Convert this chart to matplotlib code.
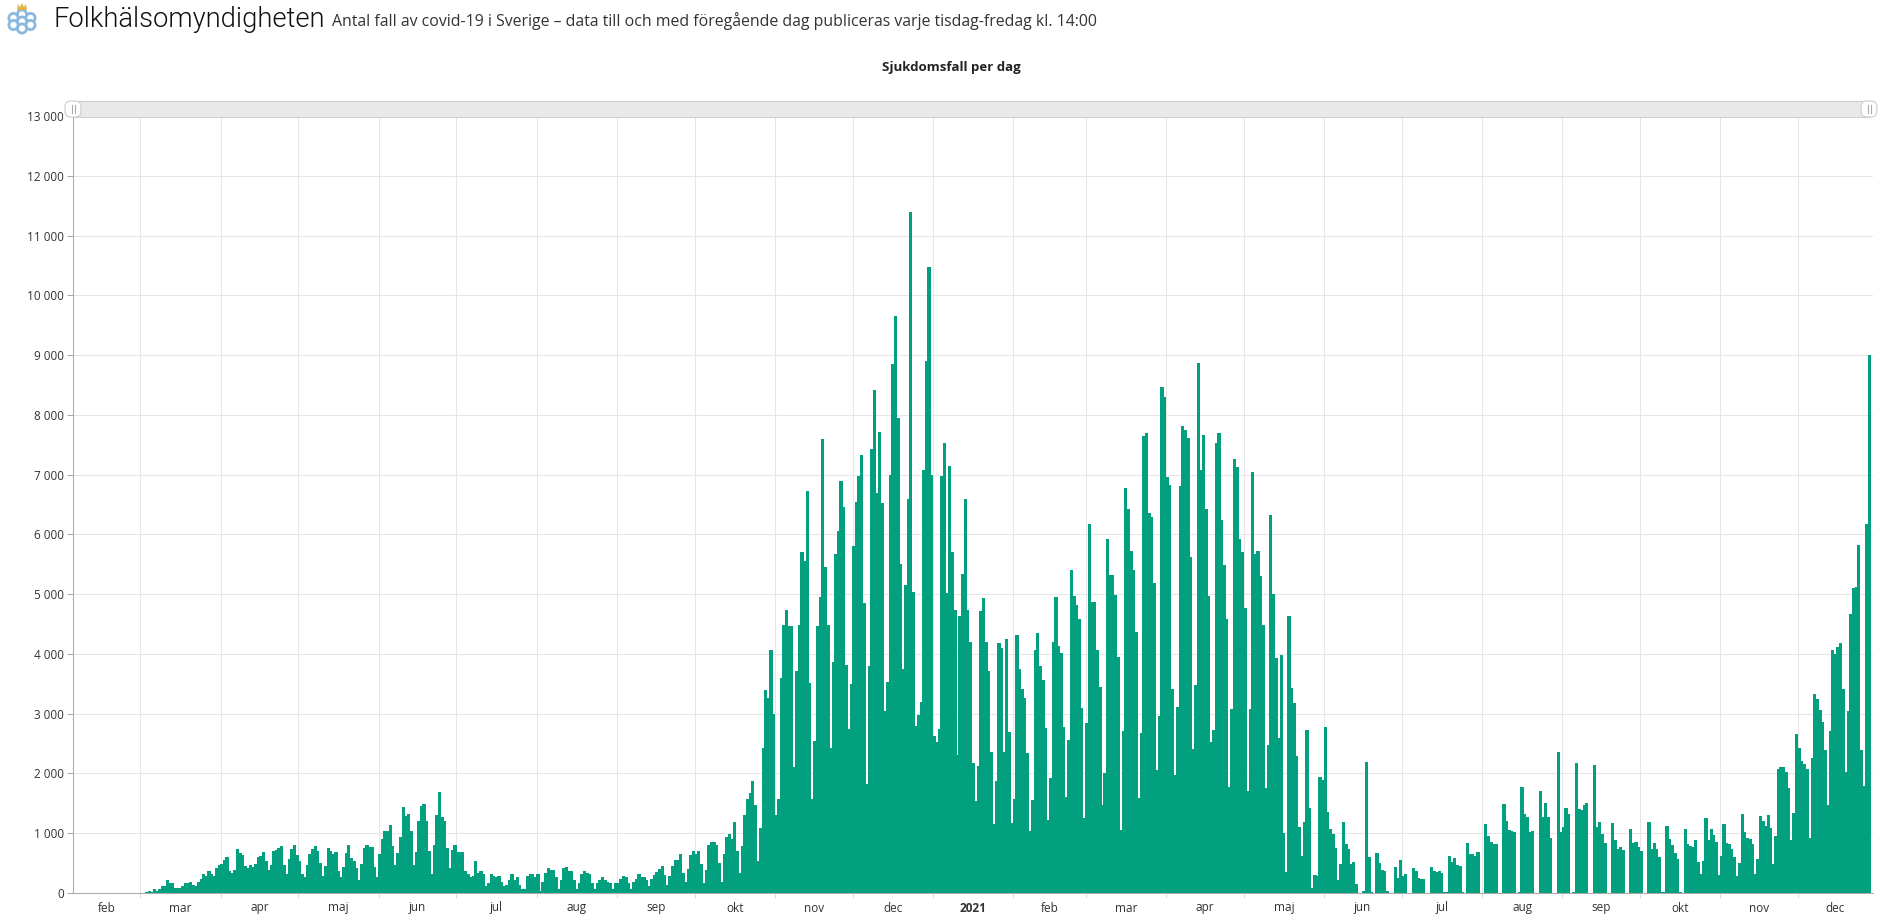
import matplotlib
matplotlib.use("Agg")
import matplotlib.pyplot as plt
from matplotlib.patches import Circle, FancyBboxPatch, Rectangle, Polygon

# Daily cases; first bar = 4 Feb 2020
cases_feb = [1, 0, 0, 0, 0, 0, 0, 0, 0, 0, 0, 0, 0, 0, 0, 0, 0, 0, 0, 0, 0, 0, 1, 1, 2, 3, 7, 7]
cases_spring_2020 = [
    20, 40, 20, 70, 40, 60, 110, 110, 210, 160, 160, 80, 80, 90, 120, 160, 160, 190, 140, 120,
    190, 240, 320, 290, 370, 310, 290, 420, 470, 490, 560, 610, 360, 340, 390, 740, 670, 640, 460, 410,
    470, 440, 490, 610, 620, 690, 540, 390, 470, 710, 720, 760, 790, 470, 310, 570, 740, 810, 640, 540,
    310, 270, 470, 660, 740, 790, 710, 510, 290, 460, 760, 710, 660, 690, 360, 260, 440, 670, 810, 590,
    540, 410, 220, 490, 760, 810, 770, 770, 440, 270, 660, 910, 1040, 1040, 1140, 790, 470, 670, 940, 1440,
    1290, 1320, 1040, 470, 690, 1210, 1460, 1490, 1210, 710, 320, 810, 1310, 1690, 1270, 1210, 760, 420, 720, 810,
    690, 690, 690, 370, 320, 260, 290, 540, 340, 370, 310, 110, 170, 320, 290, 270, 290, 190, 120, 140,
    220, 310, 220, 270, 140, 60, 70, 290, 310, 310, 260, 310, 40, 190, 340, 420, 390, 390, 270, 70,
    210, 420, 440, 370, 360, 220, 70, 170, 320, 360, 340, 310, 170, 60, 170, 220, 260, 210, 190, 160,
    70, 170, 170, 240, 290, 270, 170, 70, 190, 240, 320, 260, 260, 210, 110,
]
cases_autumn_2020 = [
    230, 300, 350, 400, 450, 300, 140, 280, 450, 560, 550, 650, 330, 180, 400, 630, 700, 650, 710, 480,
    160, 380, 800, 850, 850, 800, 510, 180, 650, 930, 980, 910, 1180, 710, 330, 780, 1300, 1580, 1670, 1870,
    1480, 530, 1080, 2420, 3390, 3270, 4060, 2990, 1300, 1580, 3600, 4490, 4740, 4460, 4460, 2100, 3720, 4490, 5710, 5560,
    6730, 3520, 1580, 2550, 4460, 4960, 7600, 5460, 4490, 2430, 3870, 5680, 6060, 6900, 6460, 3820, 2750, 3490, 5810, 6550,
    6980, 7330, 4860, 1820, 3790, 7432, 8416, 6696, 7716, 6530, 3053, 3537, 6997, 8849, 9653, 7945, 5510, 3755, 5160, 6600,
    11392, 5040, 2800, 2970, 3200, 7081, 8898, 10470, 6997, 2620, 2530, 2750, 6980, 7530, 5025, 7148, 5700, 4740, 2317, 4640,
    5342, 6596, 4740, 4206, 2167, 1536, 2120, 4724, 4940, 4200, 3720, 2367, 1147, 1880, 4190, 4106, 2367, 4256, 2702, 1164,
    1565, 4320, 3740, 3405, 3270, 2335, 1045, 1548, 4071, 4357, 3805, 3570, 2768, 1215, 1916, 4205, 4957, 4140, 4022, 2785,
    1598, 2552, 5410, 4975, 4825, 4590, 3103, 1248, 2836, 6177, 4875, 4875, 4072, 3454, 1465, 2002, 5928, 5327, 5327, 4990,
    3955, 1047, 2718, 6780, 6430, 5727, 5410, 4374, 1582, 2685, 7650, 7700, 6362, 6295, 5192, 2061, 2969,
]
cases_spring_2021 = [
    8460, 8300, 6960, 6830, 3408, 1970, 3108, 6810, 7810, 7745, 7610, 5627, 2407, 3475, 8860, 7078, 7660, 6427, 4976, 2524,
    2724, 7528, 7695, 6244, 5493, 4576, 1780, 3075, 7261, 7128, 5927, 5700, 4760, 1700, 3075, 7040, 5680, 5720, 5300, 4476,
    1750, 2474, 6320, 5000, 3925, 2591, 3975, 1000, 350, 4642, 3425, 3175, 2300, 1100,
]
cases_summer_2021 = [
    620, 1190, 2724, 1423, 90, 306, 290, 1940, 1890, 2774, 1357, 1073, 990, 756, 222, 490, 1190, 823, 740, 490,
    523, 156, 0, 0, 40, 2190, 606, 20, 0, 673, 506, 390, 372, 40, 5, 5, 440, 256, 556, 290,
    322, 0, 0, 422, 372, 256, 239, 239, 0, 0, 440, 372, 356, 372, 340, 20, 10, 623, 523, 590,
    473, 456, 20, 5, 840, 656, 656, 623, 690, 5, 5, 1157, 956, 856, 823, 823, 0, 0, 1490, 1207,
    1056, 1040, 1023, 5, 20, 1774, 1323, 1273, 1023, 1040, 0, 0, 1707, 1273, 1507, 1273, 923, 0, 0, 2357,
    1023, 1106, 1423, 1323, 5, 20, 2174, 1407, 1390, 1473, 1507, 0, 0, 2140, 1106, 1190, 990, 840, 0, 0,
    1173, 890, 740, 773, 723, 0, 0, 1073, 840, 856, 773, 706, 0, 0, 1190, 740, 840, 740, 606, 20,
    20, 1123, 906, 806, 673, 573, 20, 5, 1073, 823, 790, 773, 890, 523, 322, 540, 1257, 890, 1073, 973,
    856, 306, 623, 1157, 840, 823, 740, 606, 290, 506, 1323, 1023, 923, 906, 823, 322, 573, 1290, 1207, 1123,
    1307, 1090, 490, 956, 2074, 2107, 2107, 2024, 1757, 890, 1340, 2658, 2424, 2207, 2157, 2074, 923, 2257, 3325, 3241,
    3058, 2858, 2391, 1473, 2708, 4059, 3992, 4109, 4176, 3408, 2024, 3041, 4676, 5110, 5127, 5830, 2391, 1790, 6170, 9000,
]
y_ticks = [i * 1000 for i in range(14)]
y_tick_labels = ["0", "1 000", "2 000", "3 000", "4 000", "5 000", "6 000", "7 000", "8 000",
                 "9 000", "10 000", "11 000", "12 000", "13 000"]
# Days since 4 Feb 2020 for the first of each month
month_starts = [26, 57, 87, 118, 148, 179, 210, 240, 271, 301, 332, 363, 391, 422, 452, 483, 513, 544, 575, 605, 636, 666]
month_labels = ["feb", "mar", "apr", "maj", "jun", "jul", "aug", "sep", "okt", "nov", "dec", "2021",
                "feb", "mar", "apr", "maj", "jun", "jul", "aug", "sep", "okt", "nov", "dec"]

cases = cases_feb + cases_spring_2020 + cases_autumn_2020 + cases_spring_2021 + cases_summer_2021

W, H = 1887, 924
fig = plt.figure(figsize=(W / 100, H / 100), dpi=100, facecolor="white")
L, R, T, B = 73.0, 1873.0, 116.0, 893.0
ax = fig.add_axes([L / W, 1 - B / H, (R - L) / W, (B - T) / H])
plt.rcParams["font.family"] = ["Open Sans", "DejaVu Sans"]

ax.bar([d - 0.12 for d in range(len(cases))], cases, width=1.25, align="edge", color="#03a07f",
       linewidth=0, antialiased=False, zorder=3)
ax.set_xlim(0, 695)
ax.set_ylim(0, 13000)
ax.set_yticks(y_ticks)
ax.set_yticklabels(y_tick_labels, fontsize=8.5, color="#333333", family="Open Sans")
ax.set_xticks(month_starts)
ax.set_xticklabels([])
ax.grid(True, color="#e6e6e6", linewidth=0.75, zorder=0)
ax.set_axisbelow(True)
for s in ("top", "right"):
    ax.spines[s].set_visible(False)
ax.spines["left"].set_color("#aaaaaa")
ax.spines["bottom"].set_color("#aaaaaa")
ax.spines["left"].set_linewidth(0.75)
ax.spines["bottom"].set_linewidth(0.75)
ax.spines["bottom"].set_zorder(4)
ax.tick_params(axis="y", length=4.5, width=0.75, color="#aaaaaa", pad=2)
ax.tick_params(axis="x", length=3.5, width=0.75, color="#dddddd")

edges = [0] + month_starts + [695]
for lab, a, b in zip(month_labels, edges[:-1], edges[1:]):
    ax.annotate(lab, xy=((a + b) / 2, 0), xycoords=("data", "axes fraction"), xytext=(0, -15),
                textcoords="offset pixels", ha="center", va="center", fontsize=8.5,
                fontweight="bold" if lab == "2021" else "normal", color="#333333", family="Open Sans")

ov = fig.add_axes([0, 0, 1, 1], zorder=10)
ov.set_xlim(0, W)
ov.set_ylim(H, 0)
ov.axis("off")
ov.patch.set_alpha(0)

# Titles
ov.text(54, 27, "Folkhälsomyndigheten", fontsize=19.7, family="Roboto", fontweight=300, color="#111111", va="baseline")
ov.text(332, 26, "Antal fall av covid-19 i Sverige – data till och med föregående dag publiceras varje tisdag-fredag kl. 14:00",
        fontsize=11.4, family="Open Sans", color="#333333", va="baseline")
ov.text(951, 67, "Sjukdomsfall per dag", fontsize=9.5, fontweight="bold", family="Open Sans", color="#222222",
        ha="center", va="center")

# Range slider
ov.add_patch(Rectangle((73, 101), 1796, 16, facecolor="#e9e9e9", edgecolor="#cfcfcf", linewidth=0.8))
for cx in (73, 1869):
    ov.add_patch(FancyBboxPatch((cx - 8, 101), 16, 16, boxstyle="round,pad=0,rounding_size=6",
                                facecolor="white", edgecolor="#cccccc", linewidth=0.8))
    for dx in (-1.5, 1.5):
        ov.plot([cx + dx, cx + dx], [105, 113], color="#aaaaaa", linewidth=0.8)

# Logo
ring = "#8ab8e0"
for cx, cy in [(22, 14.5), (13.5, 18), (30.5, 18), (22, 21.5), (13.5, 25), (30.5, 25), (22, 28.5)]:
    ov.add_patch(Circle((cx, cy), 4.6, facecolor="white", edgecolor=ring, linewidth=2))
ov.add_patch(Polygon([(17, 10), (18, 4), (20, 7), (22, 3), (24, 7), (26, 4), (27, 10)], facecolor="#e2b44a", edgecolor="none"))

fig.savefig("out.png", dpi=100, facecolor="white")
